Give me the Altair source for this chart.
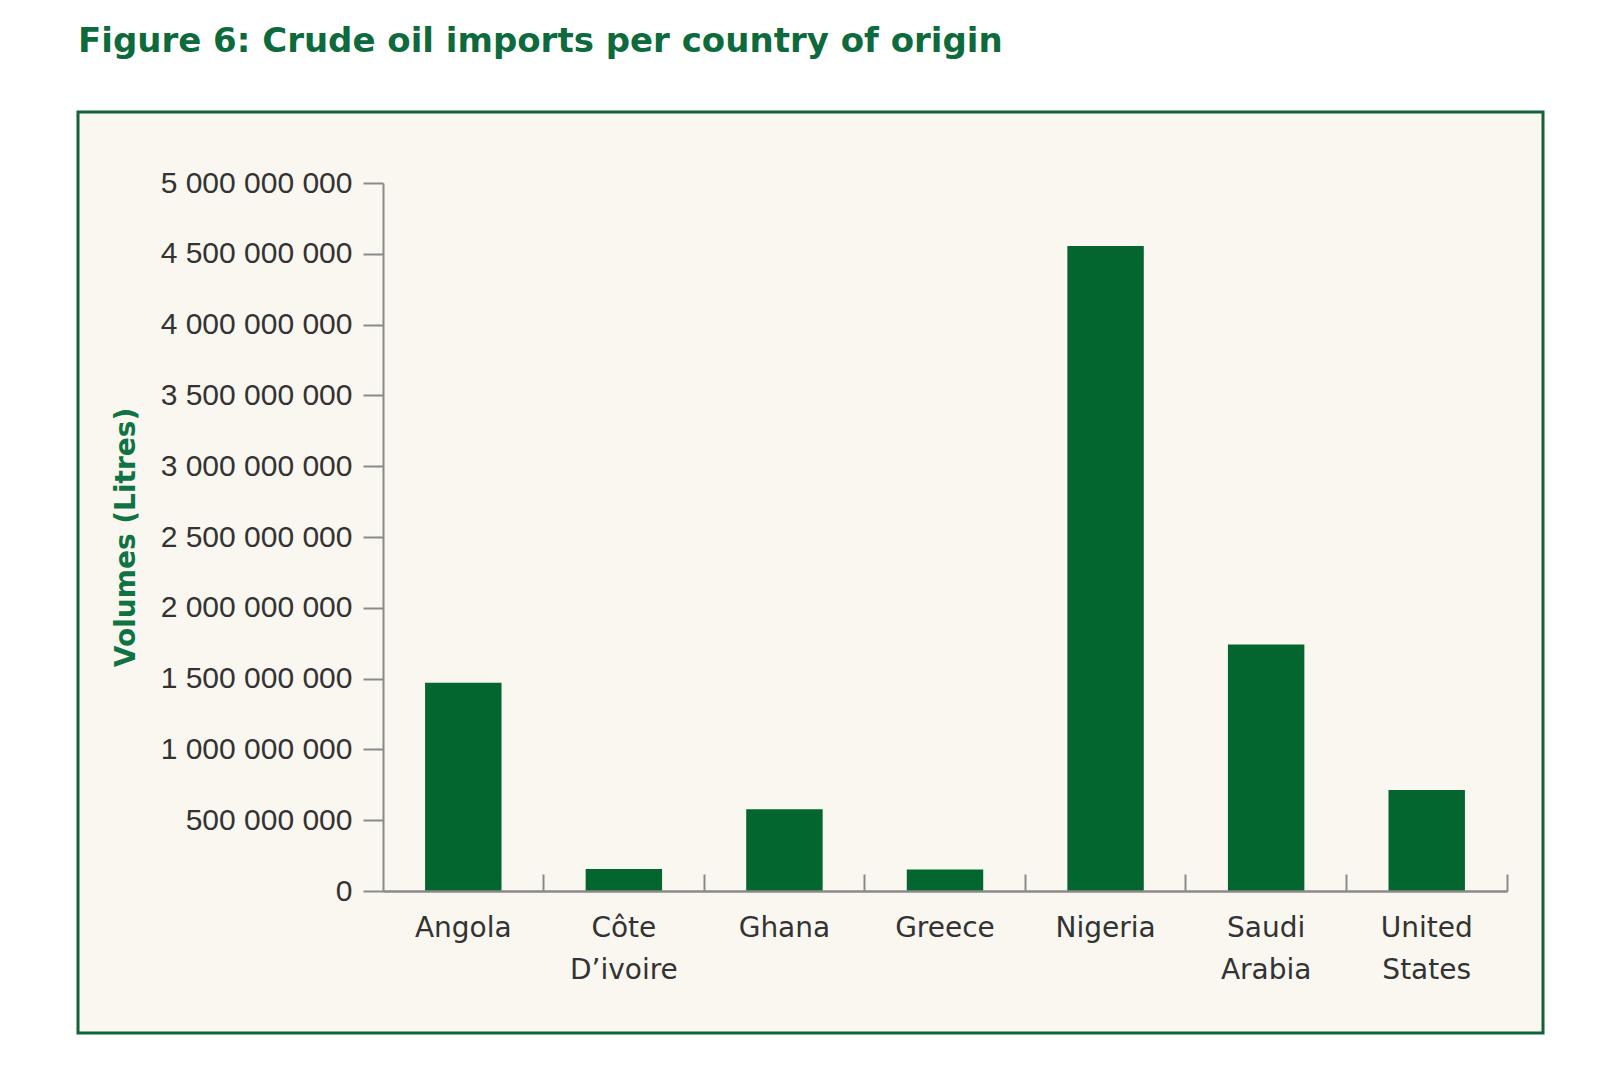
import altair as alt
import pandas as pd

countries = ["Angola", "Côte D’ivoire", "Ghana", "Greece", "Nigeria", "Saudi Arabia", "United States"]
volumes = [1470000000, 155000000, 577000000, 152000000, 4555000000, 1740000000, 713000000]
y_ticks = [0, 500000000, 1000000000, 1500000000, 2000000000, 2500000000,
           3000000000, 3500000000, 4000000000, 4500000000, 5000000000]

W, H = 1124, 708
GREEN = "#04662f"
TITLE_GREEN = "#0d6a3c"
AXIS_GRAY = "#8a8a8a"
TEXT = "#333333"

df = pd.DataFrame({"country": countries, "volume": volumes})
box = pd.DataFrame({"k": [0]})

xscale = alt.Scale(domain=countries, paddingInner=0, paddingOuter=0)
yscale = alt.Scale(domain=[0, 5000000000], nice=False)

bg = alt.Chart(box).mark_rect(
    fill="#f9f7f0", stroke="#11633a", strokeWidth=3
).encode(
    x=alt.value(-305), x2=alt.value(1160), y=alt.value(-71), y2=alt.value(850)
)

bars = alt.Chart(df).mark_bar(color=GREEN, width=alt.RelativeBandSize(0.476)).encode(
    x=alt.X("country:N", sort=countries, scale=xscale,
            axis=alt.Axis(orient="bottom", title=None, ticks=False, labelAngle=0,
                          labelExpr="split(datum.label, ' ')",
                          labelFont="DejaVu Sans", labelFontSize=28, labelColor=TEXT,
                          labelPadding=23, labelLineHeight=42, labelLimit=0,
                          domainColor=AXIS_GRAY, domainWidth=2.5, zindex=2)),
    y=alt.Y("volume:Q", scale=yscale,
            axis=alt.Axis(title="Volumes (Litres)", values=y_ticks,
                          labelExpr="replace(format(datum.value, ','), regexp(',', 'g'), ' ')",
                          labelFont="Liberation Sans", labelFontSize=30, labelColor=TEXT,
                          labelPadding=11, labelLimit=0, tickSize=20, tickWidth=2,
                          tickColor=AXIS_GRAY, domainColor=AXIS_GRAY, domainWidth=2,
                          titleFont="DejaVu Sans", titleFontWeight="bold", titleFontSize=28,
                          titleColor="#0f7343", titleX=-257, titleY=H / 2,
                          titleAngle=270, titleAlign="center", titleBaseline="middle",
                          zindex=2)),
)

tick_layer = alt.Chart(df).mark_bar(opacity=0).encode(
    x=alt.X("country:N", sort=countries, scale=xscale,
            axis=alt.Axis(orient="top", offset=-H, title=None, labels=False, domain=False,
                          ticks=True, tickSize=17, tickWidth=2, tickColor=AXIS_GRAY,
                          bandPosition=1, zindex=2)),
)

chart = alt.layer(bg, bars, tick_layer).resolve_axis(x="independent").properties(
    width=W, height=H,
    title=alt.TitleParams("Figure 6: Crude oil imports per country of origin",
                          anchor="start", frame="group", dx=-305, offset=25,
                          baseline="alphabetic", font="DejaVu Sans", fontWeight="bold",
                          fontSize=34, color=TITLE_GREEN),
    padding={"left": 375, "top": 175, "right": 85, "bottom": 174},
    autosize=alt.AutoSizeParams(type="none"),
).configure_view(stroke=None).configure_axis(grid=False)

chart.save("out.html", embed_options={"renderer": "svg", "actions": False})
